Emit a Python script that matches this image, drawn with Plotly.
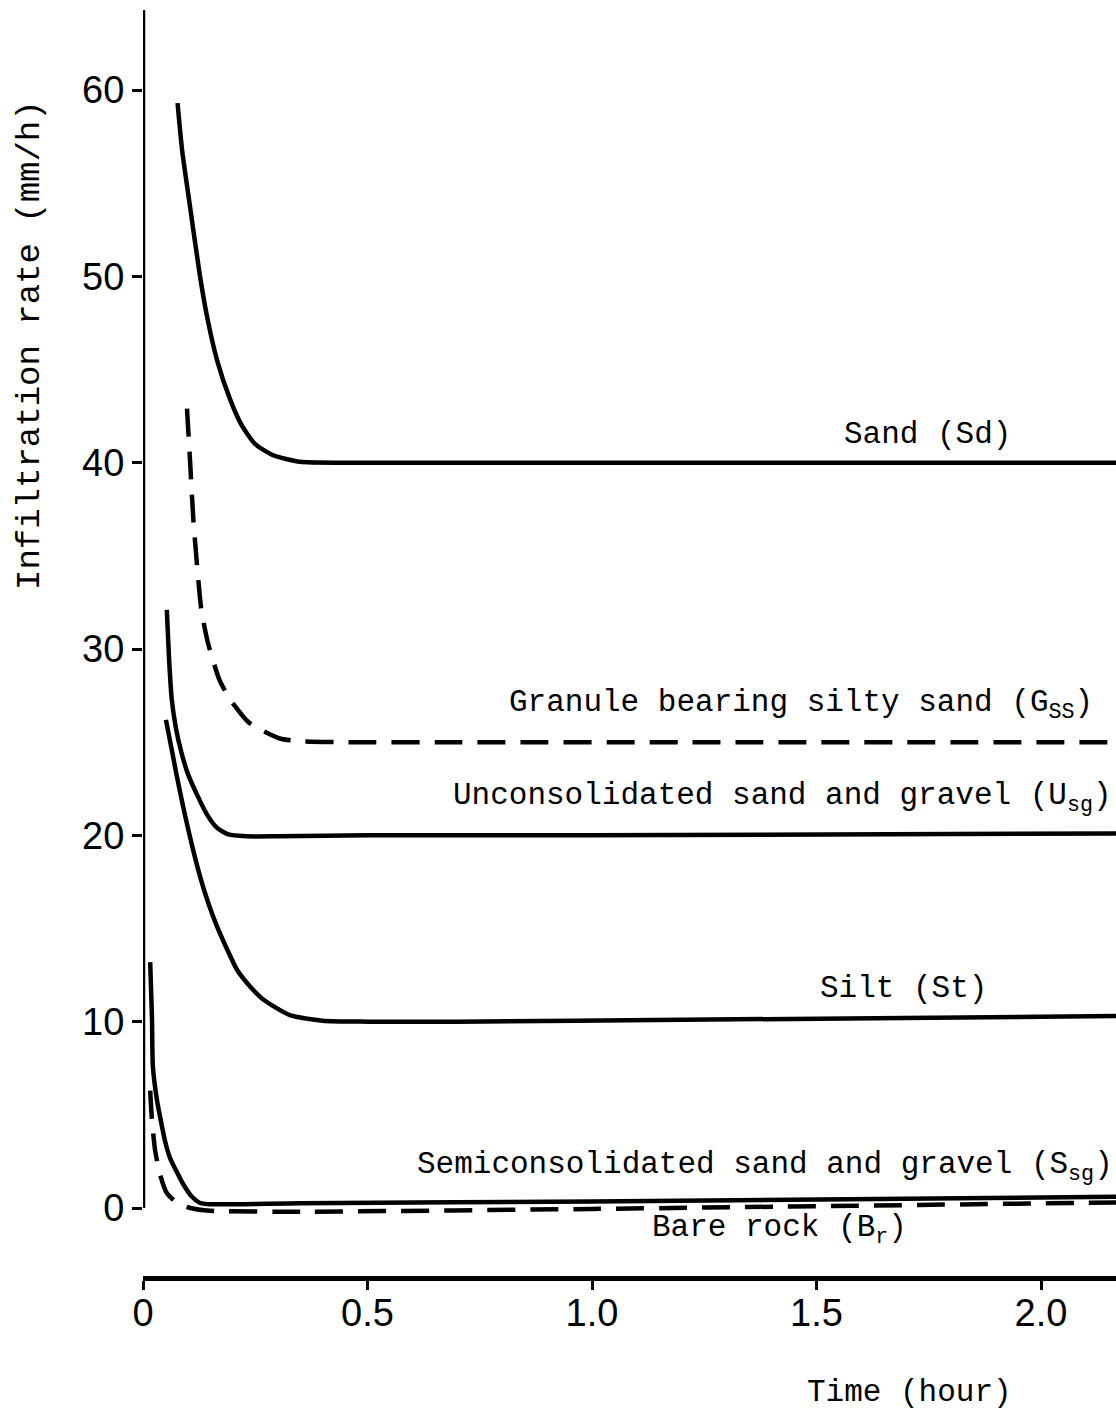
import plotly.graph_objects as go

# ---- data (time in hours, infiltration rate in mm/h) ----
sand_t = [0.077, 0.087, 0.105, 0.127, 0.143, 0.165, 0.194, 0.22, 0.25, 0.29, 0.35, 0.45, 0.7, 1.2, 2.17]
sand_v = [59.3, 56.8, 53.7, 50.0, 47.8, 45.5, 43.4, 42.0, 41.0, 40.4, 40.05, 40.0, 40.0, 40.0, 40.0]

gss_t = [0.098, 0.105, 0.112, 0.12, 0.13, 0.145, 0.171, 0.194, 0.234, 0.26, 0.305, 0.35, 0.45, 0.7, 1.2, 2.17]
gss_v = [42.9, 40.0, 37.0, 34.6, 32.1, 30.3, 28.3, 27.3, 26.1, 25.7, 25.2, 25.05, 25.0, 25.0, 25.0, 25.0]

usg_t = [0.053, 0.058, 0.064, 0.073, 0.085, 0.10, 0.12, 0.143, 0.165, 0.19, 0.23, 0.3, 0.5, 1.0, 2.17]
usg_v = [32.1, 29.5, 27.3, 25.8, 24.5, 23.3, 22.2, 21.1, 20.4, 20.05, 19.95, 19.95, 20.0, 20.0, 20.1]

silt_t = [0.051, 0.064, 0.076, 0.10, 0.127, 0.145, 0.165, 0.187, 0.209, 0.238, 0.267, 0.327, 0.40, 0.5, 0.7, 1.2, 2.17]
silt_v = [26.2, 24.6, 23.1, 20.4, 17.8, 16.4, 15.1, 13.9, 12.8, 11.9, 11.2, 10.35, 10.05, 10.0, 10.0, 10.1, 10.3]

ssg_t = [0.016, 0.02, 0.022, 0.031, 0.038, 0.049, 0.06, 0.076, 0.089, 0.109, 0.127, 0.15, 0.35, 1.0, 2.17]
ssg_v = [13.2, 10.2, 7.6, 5.8, 4.9, 3.6, 2.7, 1.9, 1.3, 0.6, 0.27, 0.2, 0.25, 0.35, 0.6]

br_t = [0.016, 0.02, 0.027, 0.038, 0.053, 0.076, 0.105, 0.15, 0.35, 1.0, 2.17]
br_v = [6.3, 4.7, 3.1, 1.8, 0.8, 0.27, 0.0, -0.15, -0.2, -0.05, 0.3]

x_ticks = [0, 0.5, 1.0, 1.5, 2.0]
x_tick_labels = ["0", "0.5", "1.0", "1.5", "2.0"]
y_ticks = [0, 10, 20, 30, 40, 50, 60]
y_tick_labels = ["0", "10", "20", "30", "40", "50", "60"]

labels = [
    ("Sand (Sd)", 1.747, 41.5, "center"),
    ("Granule bearing silty sand (G<sub>SS</sub>)", 2.12, 27.0, "right"),
    ("Unconsolidated sand and gravel (U<sub>sg</sub>)", 2.163, 22.0, "right"),
    ("Silt (St)", 1.693, 11.8, "center"),
    ("Semiconsolidated sand and gravel (S<sub>sg</sub>)", 2.165, 2.2, "right"),
    ("Bare rock (B<sub>r</sub>)", 1.417, -1.2, "center"),
]

MONO = "Liberation Mono"
SANS = "Liberation Sans"

fig = go.Figure()
solid = dict(color="black", width=4.5, shape="spline", smoothing=0.6)
dashed = dict(color="black", width=4.5, shape="spline", smoothing=0.6, dash="28px,15px")

fig.add_trace(go.Scatter(x=sand_t, y=sand_v, mode="lines", line=solid))
fig.add_trace(go.Scatter(x=gss_t, y=gss_v, mode="lines", line=dashed))
fig.add_trace(go.Scatter(x=usg_t, y=usg_v, mode="lines", line=solid))
fig.add_trace(go.Scatter(x=silt_t, y=silt_v, mode="lines", line=solid))
fig.add_trace(go.Scatter(x=ssg_t, y=ssg_v, mode="lines", line=solid))
fig.add_trace(go.Scatter(x=br_t, y=br_v, mode="lines", line=dashed))

# vertical y axis line (ends at 0)
fig.add_shape(type="line", xref="x", yref="y", x0=0, x1=0, y0=0, y1=64.3,
              line=dict(color="black", width=4.5))

for text, x, y, anchor in labels:
    fig.add_annotation(x=x, y=y, xref="x", yref="y", text=text, showarrow=False,
                       xanchor=anchor, yanchor="middle",
                       font=dict(family=MONO, size=31, color="black"))

fig.add_annotation(x=(909 - 143) / 973, y=(1276 - 1392) / 1266, xref="paper", yref="paper",
                   text="Time (hour)", showarrow=False, xanchor="center", yanchor="middle",
                   font=dict(family=MONO, size=31, color="black"))
fig.add_annotation(x=(30 - 143) / 973, y=(1276 - 345) / 1266, xref="paper", yref="paper",
                   text="Infiltration rate (mm/h)", showarrow=False, textangle=-90,
                   xanchor="center", yanchor="middle",
                   font=dict(family=MONO, size=34, color="black"))

fig.update_layout(
    width=1116, height=1411,
    margin=dict(l=143, r=0, t=10, b=135),
    paper_bgcolor="white", plot_bgcolor="white",
    showlegend=False,
    xaxis=dict(range=[0, 2.167], showgrid=False, zeroline=False,
               showline=True, linecolor="black", linewidth=4.5,
               ticks="outside", ticklen=9, tickwidth=3, tickcolor="black",
               tickvals=x_ticks, ticktext=x_tick_labels, ticklabelstandoff=-9,
               tickfont=dict(family=SANS, size=38, color="black")),
    yaxis=dict(range=[-3.65, 64.3], showgrid=False, zeroline=False, showline=False,
               ticks="outside", ticklen=10, tickwidth=3, tickcolor="black",
               tickvals=y_ticks, ticktext=y_tick_labels,
               tickfont=dict(family=SANS, size=38, color="black")),
)

fig.write_html("out.html")
